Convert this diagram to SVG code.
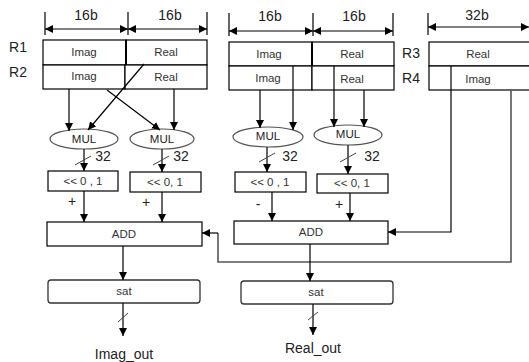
<svg xmlns="http://www.w3.org/2000/svg" width="529" height="362" viewBox="0 0 529 362">
<defs>
<marker id="ah" viewBox="0 0 10 10" refX="10" refY="5" markerWidth="8" markerHeight="8" markerUnits="userSpaceOnUse" orient="auto-start-reverse"><path d="M0,0 L10,5 L0,10 z" fill="#000"/></marker>
<style>
.box{fill:#fff;stroke:#000;stroke-width:1.2}
.ell{fill:#fff;stroke:#555;stroke-width:1.2}
.sat{fill:#fff;stroke:#333;stroke-width:1.3}
.ln{stroke:#000;stroke-width:1.2;fill:none}
.gl{stroke:#555;stroke-width:1.6;fill:none}
.arr{stroke:#000;stroke-width:1.2;fill:none;marker-end:url(#ah)}
.dim{stroke:#000;stroke-width:1.2;fill:none;marker-start:url(#ah);marker-end:url(#ah)}
.sl{stroke:#444;stroke-width:1;fill:none}
.t{font-family:"Liberation Sans",Arial,sans-serif;font-size:11.5px;fill:#333;text-anchor:middle;dominant-baseline:central}
.tb{font-family:"Liberation Sans",Arial,sans-serif;font-size:14px;fill:#222;text-anchor:middle;dominant-baseline:central}
.tm{font-family:"Liberation Sans",Arial,sans-serif;font-size:11.5px;fill:#222;text-anchor:middle;dominant-baseline:central}
</style>
</defs>

<g id="dims">
<line class="ln" x1="45" y1="12" x2="45" y2="35"/>
<line class="ln" x1="128" y1="12" x2="128" y2="35"/>
<line class="ln" x1="207" y1="12" x2="207" y2="35"/>
<line class="dim" x1="45" y1="29" x2="128" y2="29"/>
<line class="dim" x1="128" y1="29" x2="207" y2="29"/>
<text class="tb" x="86" y="15">16b</text>
<text class="tb" x="170" y="15">16b</text>
<line class="ln" x1="229" y1="13" x2="229" y2="36"/>
<line class="ln" x1="313" y1="13" x2="313" y2="36"/>
<line class="ln" x1="393" y1="13" x2="393" y2="36"/>
<line class="dim" x1="229" y1="31" x2="313" y2="31"/>
<line class="dim" x1="313" y1="31" x2="393" y2="31"/>
<text class="tb" x="270" y="16">16b</text>
<text class="tb" x="354" y="16">16b</text>
<line class="ln" x1="428" y1="13" x2="428" y2="35"/>
<line class="dim" x1="428" y1="27" x2="529" y2="27"/>
<text class="tb" x="477" y="15">32b</text>
</g>

<g id="reg12">
<rect class="box" x="43" y="40" width="83" height="25"/>
<rect class="box" x="126" y="40" width="81" height="25"/>
<rect class="box" x="43" y="65" width="82" height="24"/>
<rect class="box" x="125" y="65" width="82" height="24"/>
<line x1="126" y1="40" x2="126" y2="65" stroke="#000" stroke-width="2"/>
<text class="t" x="84" y="52">Imag</text>
<text class="t" x="166" y="52">Real</text>
<text class="t" x="84" y="76">Imag</text>
<text class="t" x="166" y="77">Real</text>
<text class="tb" x="18" y="47">R1</text>
<text class="tb" x="18" y="72">R2</text>
</g>

<g id="reg12b">
<rect class="box" x="229" y="42" width="83" height="24"/>
<rect class="box" x="312" y="42" width="82" height="24"/>
<rect class="box" x="229" y="66" width="83" height="24"/>
<rect class="box" x="312" y="66" width="82" height="24"/>
<line x1="312" y1="42" x2="312" y2="66" stroke="#000" stroke-width="2"/>
<text class="t" x="269" y="54">Imag</text>
<text class="t" x="352" y="54">Real</text>
<text class="t" x="268" y="78">Imag</text>
<text class="t" x="352" y="79">Real</text>
</g>

<g id="reg34">
<rect class="box" x="429" y="42" width="105" height="24"/>
<rect class="box" x="429" y="66" width="105" height="24"/>
<text class="t" x="478" y="54">Real</text>
<text class="t" x="478" y="79">Imag</text>
<text class="tb" x="411" y="53">R3</text>
<text class="tb" x="411" y="78">R4</text>
</g>

<g id="mul1"><ellipse class="ell" cx="84" cy="139" rx="34" ry="10"/><text class="tm" x="84" y="139">MUL</text></g>
<g id="mul2"><ellipse class="ell" cx="162" cy="139" rx="32" ry="10"/><text class="tm" x="162" y="139">MUL</text></g>
<g id="mul3"><ellipse class="ell" cx="268" cy="137" rx="35" ry="10"/><text class="tm" x="268" y="136">MUL</text></g>
<g id="mul4"><ellipse class="ell" cx="348" cy="135" rx="34" ry="10"/><text class="tm" x="348" y="134">MUL</text></g>

<g id="sh1"><rect class="box" x="48" y="171" width="70" height="20"/><text class="t" x="83" y="181">&lt;&lt; 0 , 1</text></g>
<g id="sh2"><rect class="box" x="130" y="172" width="71" height="20"/><text class="t" x="165" y="182">&lt;&lt; 0, 1</text></g>
<g id="sh3"><rect class="box" x="235" y="172" width="71" height="20"/><text class="t" x="270" y="182">&lt;&lt; 0 , 1</text></g>
<g id="sh4"><rect class="box" x="317" y="174" width="71" height="19"/><text class="t" x="352" y="183">&lt;&lt; 0, 1</text></g>

<g id="add1"><rect class="box" x="47" y="222" width="155" height="24"/><text class="t" x="124" y="234">ADD</text></g>
<g id="add2"><rect class="box" x="234" y="221" width="154" height="23"/><text class="t" x="311" y="232">ADD</text></g>

<g id="sat1"><rect class="sat" x="48" y="280" width="152" height="23" rx="3"/><text class="t" x="124" y="291">sat</text></g>
<g id="sat2"><rect class="sat" x="241" y="281" width="152" height="23" rx="3"/><text class="t" x="316" y="292">sat</text></g>

<g id="labels">
<text class="tb" x="103" y="156">32</text>
<text class="tb" x="181" y="156">32</text>
<text class="tb" x="290" y="156">32</text>
<text class="tb" x="372" y="156">32</text>
<text class="tb" x="72" y="201">+</text>
<text class="tb" x="146" y="202">+</text>
<text class="tb" x="258" y="204">-</text>
<text class="tb" x="339" y="204">+</text>
<text class="tb" x="124" y="354">Imag_out</text>
<text class="tb" x="313" y="348">Real_out</text>
</g>

<g id="connectors">
<line class="arr" x1="69" y1="89" x2="69" y2="131"/>
<line class="arr" x1="144" y1="64" x2="88" y2="130"/>
<line class="arr" x1="107" y1="90" x2="160" y2="130"/>
<line class="arr" x1="174" y1="89" x2="174" y2="130"/>
<line class="arr" x1="260" y1="90" x2="260" y2="128"/>
<line class="arr" x1="293" y1="66" x2="293" y2="130"/>
<line class="arr" x1="334" y1="66" x2="334" y2="127"/>
<line class="arr" x1="364" y1="90" x2="364" y2="127"/>

<line class="arr" x1="84" y1="149" x2="84" y2="171"/>
<line class="arr" x1="162" y1="149" x2="162" y2="172"/>
<line class="arr" x1="267" y1="147" x2="267" y2="172"/>
<line class="arr" x1="348" y1="145" x2="348" y2="174"/>
<line class="sl" x1="75" y1="165" x2="91" y2="156"/>
<line class="sl" x1="153" y1="165" x2="169" y2="156"/>
<line class="sl" x1="259" y1="162" x2="275" y2="153"/>
<line class="sl" x1="340" y1="162" x2="356" y2="153"/>

<line class="arr" x1="84" y1="191" x2="84" y2="222"/>
<line class="arr" x1="162" y1="192" x2="162" y2="222"/>
<line class="arr" x1="272" y1="192" x2="272" y2="221"/>
<line class="arr" x1="350" y1="193" x2="350" y2="221"/>

<polyline class="arr" points="451,66 451,232 388,232"/>
<polyline class="gl" points="511,90 511,262 218,262 218,233"/>
<line class="arr" x1="218" y1="233" x2="202" y2="233"/>

<line class="arr" x1="123" y1="246" x2="123" y2="280"/>
<line class="arr" x1="310" y1="244" x2="310" y2="281"/>
<line class="arr" x1="123" y1="303" x2="123" y2="336"/>
<line class="arr" x1="313" y1="304" x2="313" y2="335"/>
<line class="sl" x1="118" y1="322" x2="128" y2="313"/>
<line class="sl" x1="308" y1="320" x2="318" y2="312"/>
</g>
</svg>
